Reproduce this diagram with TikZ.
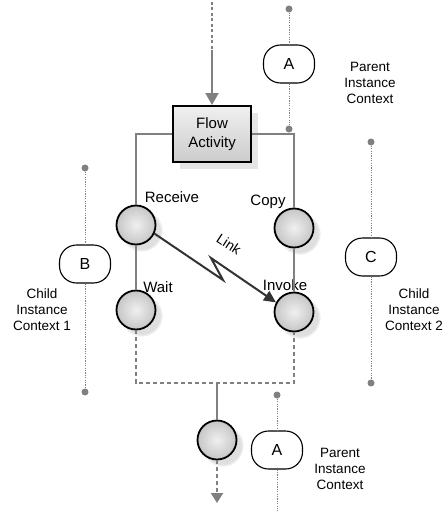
\documentclass[tikz,border=0pt]{standalone}
\usepackage{fontspec}
\setmainfont{Liberation Sans}
\usetikzlibrary{arrows.meta,shadows}

\begin{document}
\begin{tikzpicture}[x=1pt,y=-1pt,
  wire/.style={draw=gray, line width=2.2pt},
  dwire/.style={wire, dash pattern=on 4pt off 3pt},
  cline/.style={draw=gray, line width=0.9pt, dash pattern=on 1.2pt off 1.2pt},
  ctxdot/.style={circle, fill=gray, inner sep=0pt, minimum size=7pt},
  act/.style={circle, draw=black, line width=1.8pt, minimum size=39pt, inner sep=0pt,
    inner color=gray!12, outer color=gray!45,
    circular drop shadow={shadow xshift=5pt, shadow yshift=-5pt, fill=gray!25, opacity=1}},
  ctx/.style={rectangle, rounded corners=17pt, draw=black, fill=white, line width=1.1pt,
    minimum width=51pt, minimum height=38pt, font=\fontsize{16}{18}\selectfont},
  lbl/.style={inner sep=0pt, font=\fontsize{15}{17}\selectfont},
  note/.style={align=center, inner sep=0pt, font=\fontsize{13.5}{16}\selectfont}]

\useasboundingbox (0,0) rectangle (444,511);

% Flow activity
\node (flow) [rectangle, draw=black, line width=2pt, minimum width=78pt, minimum height=56pt,
  top color=gray!12, bottom color=gray!40, align=center, inner sep=0pt,
  font=\fontsize{15}{19}\selectfont,
  drop shadow={shadow xshift=7pt, shadow yshift=-7pt, fill=gray!20, opacity=1}]
  at (212,134) {Flow\\Activity};

% Activities
\node (rcv) [act] at (136,225) {};
\node (wt)  [act] at (136,310) {};
\node (cpy) [act] at (294,228) {};
\node (inv) [act] at (294,312) {};

% Labels
\node (lrcv) [lbl] at (172,197) {Receive};
\node (lcpy) [lbl] at (268,202) {Copy};
\node (lwt)  [lbl] at (158,287) {Wait};
\node (linv) [lbl] at (285,285) {Invoke};

% Incoming flow
\coordinate (in) at (212,2);
\coordinate (inmid) at (212,50);
\draw[wire, dash pattern=on 3pt off 2.5pt] (in) -- (inmid);
\draw[wire, -{Triangle[length=12pt, width=13pt]}] (inmid) -- (flow.north);

% Branches
\draw[wire] (flow.west) -| (rcv.north);
\draw[wire] (flow.east) -| (cpy.north);
\draw[wire] (rcv) -- (wt);
\draw[wire] (cpy) -- (inv);

% Join
\coordinate (jn) at (217,383);
\node (fin) [act] at (217,440) {};
\draw[dwire] (wt.south) |- (jn) -| (inv.south);
\draw[wire] (jn) -- (fin.north);
\coordinate (out) at (217,503);
\draw[dwire, -{Triangle[length=10pt, width=12pt]}] (fin.south) -- (out);

% Link
\coordinate (lk1) at (223,280);
\coordinate (lk2) at (211,258);
\draw[draw=black!80, line width=2pt, line join=miter,
  -{Triangle[length=12pt, width=11pt]}] (rcv.-25) -- (lk1) -- (lk2) -- (inv.152);
\node (llink) [lbl, rotate=-33, font=\fontsize{14}{16}\selectfont] at (229,244) {Link};

% Parent instance context (top)
\node (pa) [ctx] at (289,64) {A};
\node (pa1) [ctxdot] at (289,9) {};
\node (pa2) [ctxdot] at (289,129) {};
\draw[cline] (pa1) -- (pa.north);
\draw[cline] (pa.south) -- (pa2);
\node (npa) [note] at (370,83) {Parent\\Instance\\Context};

% Child instance context 1
\node (cb) [ctx] at (85,264) {B};
\node (cb1) [ctxdot] at (85,168) {};
\node (cb2) [ctxdot] at (85,392) {};
\draw[cline] (cb1) -- (cb.north);
\draw[cline] (cb.south) -- (cb2);
\node (ncb) [note] at (42,310) {Child\\Instance\\Context 1};

% Child instance context 2
\node (cc) [ctx] at (371,257) {C};
\node (cc1) [ctxdot] at (371,142) {};
\node (cc2) [ctxdot] at (371,383) {};
\draw[cline] (cc1) -- (cc.north);
\draw[cline] (cc.south) -- (cc2);
\node (ncc) [note] at (414,310) {Child\\Instance\\Context 2};

% Parent instance context (bottom)
\node (pb) [ctx] at (277,450) {A};
\node (pb1) [ctxdot] at (277,395) {};
\coordinate (pb2) at (277,511);
\draw[cline] (pb1) -- (pb.north);
\draw[cline] (pb.south) -- (pb2);
\node (npb) [note] at (340,469) {Parent\\Instance\\Context};

\end{tikzpicture}
\end{document}
